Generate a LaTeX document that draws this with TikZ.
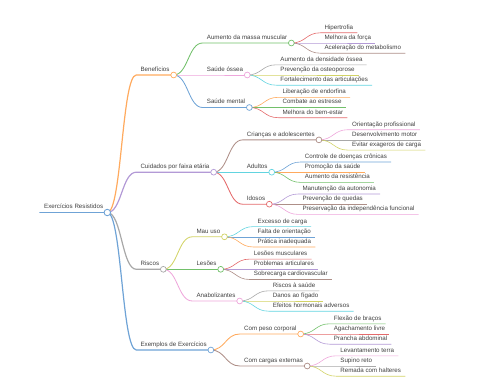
\documentclass[tikz,border=0pt]{standalone}
\usepackage{fontspec}
\setmainfont{Liberation Sans}
\usepackage{tikz}
\usetikzlibrary{positioning}
\definecolor{mBlue}{HTML}{6FA3D6}
\definecolor{mOrange}{HTML}{FFAA5E}
\definecolor{mGreen}{HTML}{72C06A}
\definecolor{mRed}{HTML}{E46A6B}
\definecolor{mPurple}{HTML}{B39AD6}
\definecolor{mBrown}{HTML}{AE8F88}
\definecolor{mPink}{HTML}{EEA6DB}
\definecolor{mGray}{HTML}{A8A8A8}
\definecolor{mOlive}{HTML}{D2D366}
\definecolor{mCyan}{HTML}{62D4E0}
% one branch: name, parent, vertical offset, colour, width, text
\newcommand{\twig}[6]{%
  \node[mtxt, right=29pt of #2.south east, anchor=south west, yshift=#3] (#1) {#6};
  \draw[draw=#4, #5] (#2.south east) to[out=0,in=180,distance=14.5pt] (#1.south west) -- (#1.south east);
}
\tikzset{
  mtxt/.style={inner xsep=4pt, inner ysep=2pt, text height=4.6pt, text depth=1.4pt,
               font=\fontsize{6.2}{7}\selectfont, text=black!75},
  dot/.style ={circle, draw, fill=white, minimum size=5.8pt, inner sep=0pt, line width=0.7pt},
  lv0/.style ={line width=1.8pt, line cap=round},
  lv1/.style ={line width=1.2pt, line join=round},
  lv2/.style ={line width=0.85pt, line join=round},
  lv3/.style ={line width=0.6pt, line join=round},
}
\begin{document}
\begin{tikzpicture}[x=1pt, y=1pt]
  \useasboundingbox (0,0) rectangle (480,384);
  % root
  \node[mtxt, anchor=south west] (root) at (40,171.5) {Exercícios Resistidos};
  \draw[lv0, draw=mBlue] (root.south west) -- (root.south east);
  % main branches
  \twig{ben}{root}{137.5pt}{mOrange}{lv1}{Benefícios}
  \twig{cuid}{root}{40.3pt}{mPurple}{lv1}{Cuidados por faixa etária}
  \twig{riscos}{root}{-56.8pt}{mGray}{lv1}{Riscos}
  \twig{exem}{root}{-137.5pt}{mBlue}{lv1}{Exemplos de Exercícios}
  % Benefícios
  \twig{mus}{ben}{32pt}{mGreen}{lv2}{Aumento da massa muscular}
  \twig{hip}{mus}{10.2pt}{mRed}{lv3}{Hipertrofia}
  \twig{forca}{mus}{0pt}{mPurple}{lv3}{Melhora da força}
  \twig{metab}{mus}{-10.2pt}{mBrown}{lv3}{Aceleração do metabolismo}
  \twig{ossea}{ben}{0pt}{mPink}{lv2}{Saúde óssea}
  \twig{dens}{ossea}{10.2pt}{mGray}{lv3}{Aumento da densidade óssea}
  \twig{osteo}{ossea}{0pt}{mOlive}{lv3}{Prevenção da osteoporose}
  \twig{artic}{ossea}{-10.2pt}{mCyan}{lv3}{Fortalecimento das articulações}
  \twig{mental}{ben}{-32.5pt}{mBlue}{lv2}{Saúde mental}
  \twig{endorf}{mental}{10.2pt}{mOrange}{lv3}{Liberação de endorfina}
  \twig{stress}{mental}{0pt}{mGreen}{lv3}{Combate ao estresse}
  \twig{bemest}{mental}{-10.2pt}{mRed}{lv3}{Melhora do bem-estar}
  % Cuidados por faixa etária
  \twig{kids}{cuid}{32.3pt}{mBrown}{lv2}{Crianças e adolescentes}
  \twig{orient}{kids}{10.2pt}{mPink}{lv3}{Orientação profissional}
  \twig{motor}{kids}{0pt}{mGray}{lv3}{Desenvolvimento motor}
  \twig{exag}{kids}{-10.2pt}{mOlive}{lv3}{Evitar exageros de carga}
  \twig{adult}{cuid}{0pt}{mCyan}{lv2}{Adultos}
  \twig{cronic}{adult}{10.2pt}{mBlue}{lv3}{Controle de doenças crônicas}
  \twig{saude}{adult}{0pt}{mOrange}{lv3}{Promoção da saúde}
  \twig{resist}{adult}{-10.2pt}{mGreen}{lv3}{Aumento da resistência}
  \twig{idosos}{cuid}{-32pt}{mRed}{lv2}{Idosos}
  \twig{auton}{idosos}{10.2pt}{mPurple}{lv3}{Manutenção da autonomia}
  \twig{quedas}{idosos}{0pt}{mBrown}{lv3}{Prevenção de quedas}
  \twig{indep}{idosos}{-10.2pt}{mPink}{lv3}{Preservação da independência funcional}
  % Riscos
  \twig{mau}{riscos}{32.5pt}{mOlive}{lv2}{Mau uso}
  \twig{excesso}{mau}{10.2pt}{mCyan}{lv3}{Excesso de carga}
  \twig{falta}{mau}{0pt}{mBlue}{lv3}{Falta de orientação}
  \twig{pratica}{mau}{-10.2pt}{mOrange}{lv3}{Prática inadequada}
  \twig{lesoes}{riscos}{0pt}{mGreen}{lv2}{Lesões}
  \twig{lmusc}{lesoes}{10.2pt}{mRed}{lv3}{Lesões musculares}
  \twig{artprob}{lesoes}{0pt}{mPurple}{lv3}{Problemas articulares}
  \twig{cardio}{lesoes}{-10.2pt}{mBrown}{lv3}{Sobrecarga cardiovascular}
  \twig{anab}{riscos}{-31.7pt}{mPink}{lv2}{Anabolizantes}
  \twig{rsaude}{anab}{10.2pt}{mGray}{lv3}{Riscos à saúde}
  \twig{figado}{anab}{0pt}{mOlive}{lv3}{Danos ao fígado}
  \twig{hormon}{anab}{-10.2pt}{mCyan}{lv3}{Efeitos hormonais adversos}
  % Exemplos de Exercícios
  \twig{peso}{exem}{16pt}{mOrange}{lv2}{Com peso corporal}
  \twig{flexao}{peso}{10.2pt}{mGreen}{lv3}{Flexão de braços}
  \twig{agach}{peso}{0pt}{mRed}{lv3}{Agachamento livre}
  \twig{prancha}{peso}{-10.2pt}{mPurple}{lv3}{Prancha abdominal}
  \twig{cargas}{exem}{-16pt}{mBrown}{lv2}{Com cargas externas}
  \twig{terra}{cargas}{10.2pt}{mPink}{lv3}{Levantamento terra}
  \twig{supino}{cargas}{0pt}{mGray}{lv3}{Supino reto}
  \twig{remada}{cargas}{-10.2pt}{mOlive}{lv3}{Remada com halteres}
  % fork dots on top
  \node[dot, draw=mBlue, minimum size=6.5pt, line width=0.9pt] (root-c) at (root.south east) {};
  \node[dot, draw=mOrange] (ben-c) at (ben.south east) {};
  \node[dot, draw=mPurple] (cuid-c) at (cuid.south east) {};
  \node[dot, draw=mGray] (riscos-c) at (riscos.south east) {};
  \node[dot, draw=mBlue] (exem-c) at (exem.south east) {};
  \node[dot, draw=mGreen] (mus-c) at (mus.south east) {};
  \node[dot, draw=mPink] (ossea-c) at (ossea.south east) {};
  \node[dot, draw=mBlue] (mental-c) at (mental.south east) {};
  \node[dot, draw=mBrown] (kids-c) at (kids.south east) {};
  \node[dot, draw=mCyan] (adult-c) at (adult.south east) {};
  \node[dot, draw=mRed] (idosos-c) at (idosos.south east) {};
  \node[dot, draw=mOlive] (mau-c) at (mau.south east) {};
  \node[dot, draw=mGreen] (lesoes-c) at (lesoes.south east) {};
  \node[dot, draw=mPink] (anab-c) at (anab.south east) {};
  \node[dot, draw=mOrange] (peso-c) at (peso.south east) {};
  \node[dot, draw=mBrown] (cargas-c) at (cargas.south east) {};
\end{tikzpicture}
\end{document}
